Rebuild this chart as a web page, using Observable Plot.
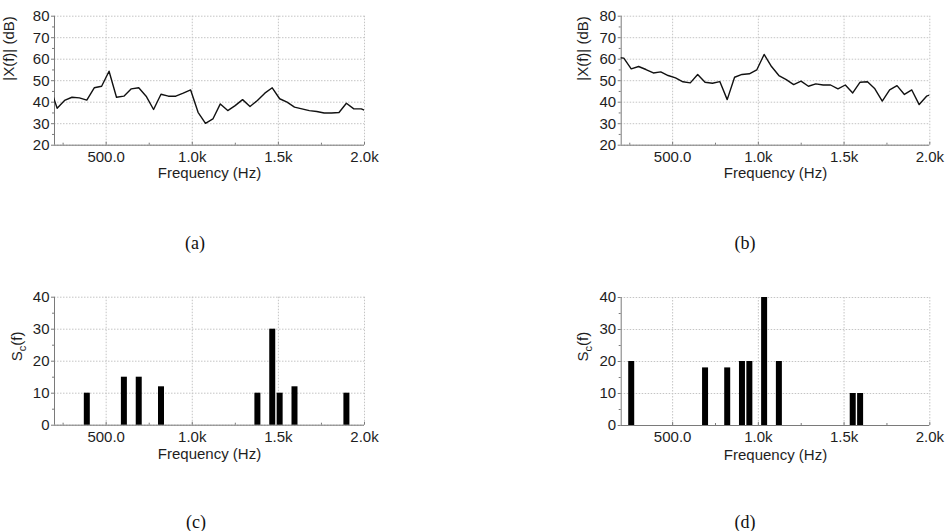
<!DOCTYPE html>
<html><head><meta charset="utf-8">
<script src="https://cdn.jsdelivr.net/npm/d3@7"></script>
<script src="https://cdn.jsdelivr.net/npm/@observablehq/plot@0.6"></script>
<style>
body{margin:0;background:#fff;}
#fig{position:relative;width:945px;height:531px;overflow:hidden;background:#fff;}
.panel{position:absolute;}
.cap{position:absolute;font-family:"Liberation Serif","Times New Roman",serif;font-size:18px;color:#111;transform:translate(-50%,-50%);white-space:nowrap;}
</style></head><body><div id="fig"></div>
<script>
// Spectrum bin frequencies (Hz)
const freqs = [172.3, 215.3, 258.4, 301.5, 344.5, 387.6, 430.7, 473.7, 516.8, 559.9,
  602.9, 646.0, 689.1, 732.1, 775.2, 818.3, 861.3, 904.4, 947.5, 990.5,
  1033.6, 1076.7, 1119.7, 1162.8, 1205.9, 1248.9, 1292.0, 1335.1, 1378.1, 1421.2,
  1464.3, 1507.3, 1550.4, 1593.5, 1636.5, 1679.6, 1722.7, 1765.7, 1808.8, 1851.9,
  1894.9, 1938.0, 1981.1, 2024.1];
// (a) |X(f)| in dB
const magA = [47.5, 37.2, 40.8, 42.3, 42.0, 41.0, 46.7, 47.4, 54.4, 42.3,
  42.8, 46.2, 46.7, 42.8, 36.6, 43.7, 42.8, 42.8, 44.2, 45.7,
  35.3, 30.2, 32.2, 39.2, 36.1, 38.4, 41.2, 38.0, 40.8, 44.2,
  46.7, 41.6, 40.0, 37.7, 36.9, 36.1, 35.7, 35.0, 35.0, 35.2,
  39.5, 36.9, 36.9, 35.5];
// (b) |X(f)| in dB
const magB = [60.8, 60.5, 55.5, 56.6, 55.2, 53.6, 54.1, 52.4, 51.3, 49.5,
  49.0, 52.9, 49.3, 48.8, 49.6, 41.2, 51.6, 52.9, 53.2, 55.0,
  62.2, 56.6, 52.4, 50.5, 48.2, 49.8, 47.4, 48.5, 48.0, 48.0,
  46.2, 48.0, 44.3, 49.3, 49.5, 46.2, 40.5, 45.7, 47.7, 43.6,
  45.7, 38.9, 42.8, 44.1];
// (c) Sc(f)
const barFreqC = [387.6, 602.9, 689.1, 818.3, 1378.1, 1464.3, 1507.3, 1593.5, 1894.9];
const barValC  = [10, 15, 15, 12, 10, 30, 10, 12, 10];
// (d) Sc(f)
const barFreqD = [258.4, 689.1, 818.3, 904.4, 947.5, 1033.6, 1119.7, 1550.4, 1593.5];
const barValD  = [20, 18, 18, 20, 20, 40, 20, 10, 10];

const xTicks = [500, 1000, 1500, 2000];
const xTickLabels = ["500.0", "1.0k", "1.5k", "2.0k"];
const xMinorTicks = [250, 750, 1250, 1750];
const magTicks = [20, 30, 40, 50, 60, 70, 80];
const magMinor = [25, 35, 45, 55, 65, 75];
const scTicks = [0, 10, 20, 30, 40];
const scMinor = [5, 15, 25, 35];
const xLabel = "Frequency (Hz)";
const magLabel = "|X(f)| (dB)";
const scLabel = "S_c(f)";
const captions = ["(a)", "(b)", "(c)", "(d)"];

const axisColor = "#7a7a7a";
const gridColor = "#c4c4c4";
const textColor = "#1e1e1e";
const fmt = d => xTickLabels[xTicks.indexOf(d)] ?? "";

function panel(cfg) {
  const marks = [
    Plot.gridX(xTicks, {stroke: gridColor, strokeOpacity: 1, strokeDasharray: "1.5,1.5"}),
    Plot.gridY(cfg.yTicks, {stroke: gridColor, strokeOpacity: 1, strokeDasharray: "1.5,1.5"}),
    Plot.axisY(cfg.yTicks, {anchor: "left", tickSize: 3, tickPadding: 2, label: null, stroke: axisColor, fill: textColor}),
    Plot.axisY(cfg.yMinor, {anchor: "left", tickSize: 2, tickFormat: () => "", label: null, stroke: axisColor}),
    Plot.axisX(xTicks, {anchor: "bottom", tickSize: 3, dy: -3, tickFormat: () => "", label: null, stroke: axisColor}),
    Plot.axisX(xMinorTicks, {anchor: "bottom", tickSize: 2, dy: -2, tickFormat: () => "", label: null, stroke: axisColor}),
    Plot.axisX(xTicks, {anchor: "bottom", tickSize: 0, tickPadding: 6, tickFormat: fmt, label: null, fill: textColor}),
    Plot.ruleX([200], {stroke: axisColor}),
    Plot.ruleY([cfg.yDomain[0]], {stroke: axisColor}),
    ...cfg.marks,
    Plot.text([xLabel], {text: d => d, frameAnchor: "bottom", dy: cfg.xLabelDy, fill: textColor}),
    Plot.text([cfg.yLabel], {text: d => d, frameAnchor: "left", rotate: -90, dx: cfg.yLabelDx, fill: textColor})
  ];
  const svg = Plot.plot({
    width: cfg.w, height: cfg.h,
    marginLeft: cfg.mL, marginRight: cfg.mR, marginTop: cfg.mT, marginBottom: cfg.mB,
    x: {domain: [200, 2000]},
    y: {domain: cfg.yDomain},
    style: {fontFamily: "'Liberation Sans', Arial, sans-serif", fontSize: "15px", background: "transparent", overflow: "visible", color: textColor},
    marks
  });
  // subscript for S_c(f)
  d3.select(svg).selectAll("text").each(function() {
    if (this.textContent === "S_c(f)") {
      this.innerHTML = 'S<tspan dy="4" font-size="11">c</tspan><tspan dy="-4">(f)</tspan>';
    }
  });
  const wrap = document.createElement("div");
  wrap.className = "panel";
  wrap.style.left = cfg.left + "px";
  wrap.style.top = cfg.top + "px";
  wrap.appendChild(svg);
  document.getElementById("fig").appendChild(wrap);
}

const lineA = freqs.map((f, i) => ({f, v: magA[i]}));
const lineB = freqs.map((f, i) => ({f, v: magB[i]}));
const barsC = barFreqC.map((f, i) => ({f, v: barValC[i]}));
const barsD = barFreqD.map((f, i) => ({f, v: barValD[i]}));

const lineMark = data => Plot.line(data, {x: "f", y: "v", stroke: "#111", strokeWidth: 1.4, clip: true});
const barMark = data => Plot.ruleX(data, {x: "f", y1: 0, y2: "v", stroke: "#000", strokeWidth: 6});

panel({left: 0, top: 0, w: 380, h: 200, mL: 54, mR: 16, mT: 15.7, mB: 55.3,
  yDomain: [20, 80], yTicks: magTicks, yMinor: magMinor, yLabel: magLabel,
  xLabelDy: 33, yLabelDx: -45, marks: [lineMark(lineA)]});
panel({left: 560, top: 0, w: 385, h: 200, mL: 60.7, mR: 15.7, mT: 15.7, mB: 55.3,
  yDomain: [20, 80], yTicks: magTicks, yMinor: magMinor, yLabel: magLabel,
  xLabelDy: 33, yLabelDx: -38, marks: [lineMark(lineB)]});
panel({left: 0, top: 260, w: 380, h: 200, mL: 54, mR: 16, mT: 36.7, mB: 35.3,
  yDomain: [0, 40], yTicks: scTicks, yMinor: scMinor, yLabel: scLabel,
  xLabelDy: 34, yLabelDx: -37, marks: [barMark(barsC)]});
panel({left: 560, top: 260, w: 385, h: 200, mL: 60.7, mR: 15.7, mT: 37, mB: 35,
  yDomain: [0, 40], yTicks: scTicks, yMinor: scMinor, yLabel: scLabel,
  xLabelDy: 34, yLabelDx: -38, marks: [barMark(barsD)]});

const capPos = [[195, 243], [745, 243], [196, 522], [745, 522]];
captions.forEach((c, i) => {
  const d = document.createElement("div");
  d.className = "cap";
  d.textContent = c;
  d.style.left = capPos[i][0] + "px";
  d.style.top = capPos[i][1] + "px";
  document.getElementById("fig").appendChild(d);
});
</script>
</body></html>
